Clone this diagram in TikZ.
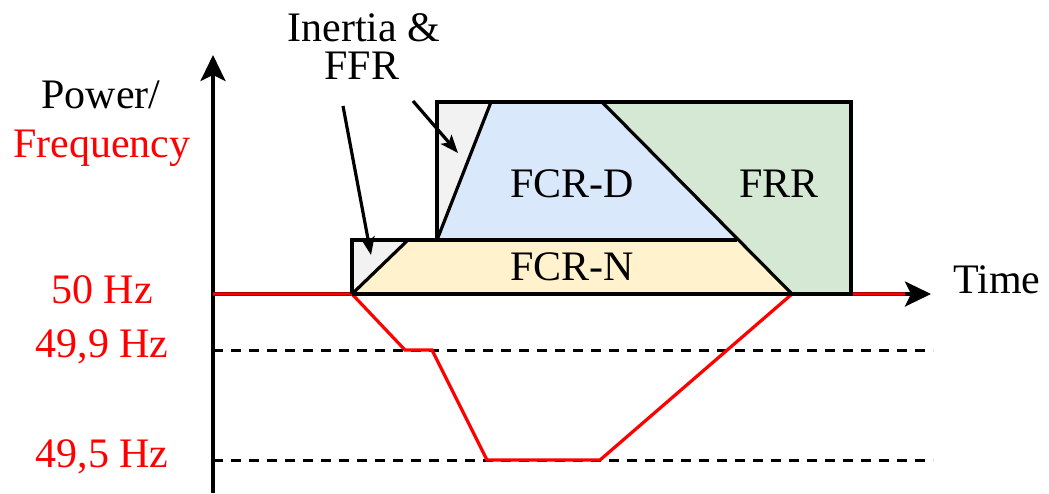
\documentclass[tikz,border=0pt]{standalone}
\usepackage{fontspec}
\setmainfont{Liberation Serif}
\usetikzlibrary{arrows.meta}
\definecolor{greyfill}{HTML}{F2F2F2}
\definecolor{bluefill}{HTML}{DAE8FC}
\definecolor{greenfill}{HTML}{D5E8D4}
\definecolor{yellowfill}{HTML}{FFF2CC}
\definecolor{redline}{HTML}{FF0000}
\tikzset{
  lbl/.style={anchor=base, inner sep=0pt, font=\fontsize{42}{48}\selectfont},
  axisline/.style={line width=3.2pt, -{Stealth[length=26pt,width=25pt,inset=6pt]}},
  dashline/.style={line width=3pt, dash pattern=on 10pt off 8pt},
  freqline/.style={line width=3.2pt, redline, line join=miter},
  region/.style={draw=black, line width=3.2pt, line join=miter},
  pointer/.style={line width=3.2pt, -{Stealth[length=18pt,width=14pt,inset=4pt]}}
}
\begin{document}
\begin{tikzpicture}[x=1pt,y=-1pt]
\useasboundingbox (0,0) rectangle (1049,493);
% coordinates
\coordinate (yb) at (213,493);
\coordinate (yt) at (213,55);
\coordinate (xl) at (213,294);
\coordinate (xr) at (931,294);
\coordinate (d1l) at (213,350);
\coordinate (d1r) at (933,350);
\coordinate (d2l) at (213,460);
\coordinate (d2r) at (933,460);
% axes
\draw[axisline] (yb) -- (yt);
\draw[axisline] (xl) -- (xr);
% dashed levels
\draw[dashline] (d1l) -- (d1r);
\draw[dashline] (d2l) -- (d2r);
% frequency curve
\draw[freqline] (213,294) -- (352,294) -- (405,350) -- (432,350) -- (487,460) -- (600,460) -- (792,294) -- (905,294);
% regions
\fill[greyfill] (352,240) -- (408,240) -- (352,294) -- cycle;
\fill[yellowfill] (408,240) -- (737,240) -- (792,294) -- (352,294) -- cycle;
\fill[greyfill] (437,102) -- (491,102) -- (437,240) -- cycle;
\fill[bluefill] (491,102) -- (602,102) -- (737,240) -- (437,240) -- cycle;
\fill[greenfill] (602,102) -- (851,102) -- (851,294) -- (792,294) -- cycle;
\draw[region] (437,240) -- (352,240) -- (352,294);
\draw[region] (437,240) -- (437,102) -- (851,102) -- (851,294) -- (352,294);
\draw[region] (437,240) -- (737,240);
\draw[region] (352,294) -- (408,240);
\draw[region] (437,240) -- (491,102);
\draw[region] (602,102) -- (792,294);
% labels
\node[lbl] (power) at (101,108) {Power/};
\node[lbl, text=redline] (freq) at (102,157) {Frequency};
\node[lbl] (inertia) at (364,41) {Inertia \&};
\node[lbl] (ffr) at (362,79) {FFR};
\node[lbl, text=redline] (f50) at (102,303) {50 Hz};
\node[lbl, text=redline] (f499) at (102,357) {49,9 Hz};
\node[lbl, text=redline] (f495) at (102,467) {49,5 Hz};
\node[lbl] (time) at (997,293) {Time};
\node[lbl] (fcrd) at (572,197) {FCR-D};
\node[lbl] (frr) at (779,197) {FRR};
\node[lbl] (fcrn) at (572,280) {FCR-N};
% pointers
\coordinate (p1s) at (343,106);
\coordinate (p1e) at (371,255);
\coordinate (p2s) at (413,101);
\coordinate (p2e) at (458,153);
\draw[pointer] (p1s) -- (p1e);
\draw[pointer] (p2s) -- (p2e);
\end{tikzpicture}
\end{document}
